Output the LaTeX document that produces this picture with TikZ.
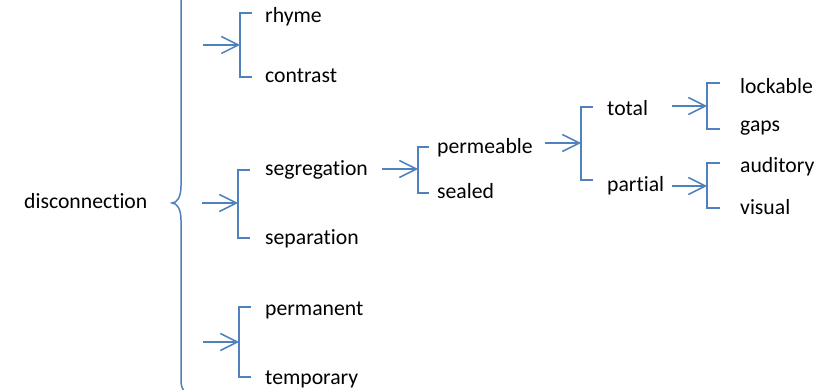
\documentclass[tikz,border=0pt]{standalone}
\usepackage{fontspec}
\setmainfont{Carlito}[Ligatures=NoCommon]
\usetikzlibrary{arrows.meta}
\definecolor{lb}{HTML}{4F81BD}
\begin{document}
\begin{tikzpicture}[x=1pt,y=-1pt,
  lbl/.style={anchor=west,inner sep=0pt,text height=16pt,text depth=0pt,font=\fontsize{21.7}{26}\selectfont},
  conn/.style={draw=lb,line width=1.5pt},
  arr/.style={conn,-{Straight Barb[length=17pt,width=17pt]}}]
\useasboundingbox (0,0) rectangle (825,390);
% texts
\node[lbl] (disc) at (24,201) {disconnection};
\node[lbl] (rhyme) at (265,15) {rhyme};
\node[lbl] (contrast) at (265,75) {contrast};
\node[lbl] (segr) at (265,168) {segregation};
\node[lbl] (sepa) at (265,237) {separation};
\node[lbl] (perman) at (265,308) {permanent};
\node[lbl] (tempo) at (265,376) {temporary};
\node[lbl] (perme) at (437,146) {permeable};
\node[lbl] (sealed) at (437,191) {sealed};
\node[lbl] (total) at (607,108) {total};
\node[lbl] (partial) at (607,184) {partial};
\node[lbl] (lock) at (740,86) {lockable};
\node[lbl] (gaps) at (740,124) {gaps};
\node[lbl] (audi) at (740,165) {auditory};
\node[lbl] (visu) at (740,207) {visual};
% brace
\draw[conn] (181,-5) -- (181,186) .. controls (181,197) and (177,203) .. (172,203)
  .. controls (177,203) and (181,209) .. (181,220) -- (181,380)
  .. controls (181,386) and (182,389) .. (186,393);
% bracket corners
\coordinate (b1t) at (252,13);  \coordinate (b1b) at (252,77);  \coordinate (b1m) at (240,45);
\coordinate (b2t) at (250,170); \coordinate (b2b) at (250,238); \coordinate (b2m) at (238,203);
\coordinate (b3t) at (251,307); \coordinate (b3b) at (251,377); \coordinate (b3m) at (239,342);
\coordinate (b4t) at (429,147); \coordinate (b4b) at (429,193); \coordinate (b4m) at (418,169);
\coordinate (b5t) at (593,107); \coordinate (b5b) at (593,180); \coordinate (b5m) at (581,143);
\coordinate (b6t) at (720,83);  \coordinate (b6b) at (720,129); \coordinate (b6m) at (707,106);
\coordinate (b7t) at (720,163); \coordinate (b7b) at (720,208); \coordinate (b7m) at (707,186);
% arrow starts
\coordinate (a1) at (203,45);
\coordinate (a2) at (202,203);
\coordinate (a3) at (203,342);
\coordinate (a4) at (382,169);
\coordinate (a5) at (545,143);
\coordinate (a6) at (672,106);
\coordinate (a7) at (672,186);
% brackets
\foreach \i in {1,...,7}{
  \draw[conn] (b\i t) -- (b\i t -| b\i m) -- (b\i b -| b\i m) -- (b\i b);
  \draw[arr] (a\i) -- (b\i m);
}
\end{tikzpicture}
\end{document}
